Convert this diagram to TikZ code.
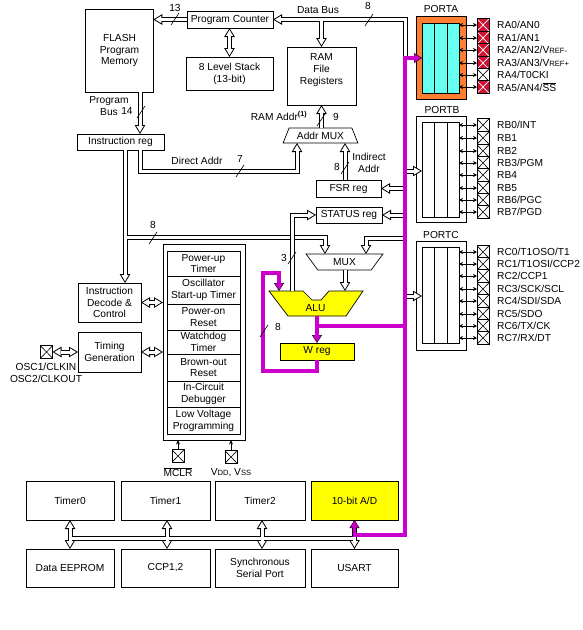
\documentclass[tikz,border=0pt]{standalone}
\usepackage{fontspec}
\setmainfont{Liberation Sans}
\usetikzlibrary{arrows.meta,shapes.geometric}

\definecolor{magbus}{HTML}{CC00CC}
\definecolor{portcyan}{HTML}{66FFF0}
\definecolor{portorange}{HTML}{FF7F32}
\definecolor{pinred}{HTML}{D01030}
\definecolor{blockyellow}{HTML}{FFFF00}

\newcommand{\smallcap}[1]{{\fontsize{7.6}{9}\selectfont #1}}

\tikzset{
	hollow/.tip={Triangle[open,fill=white,line width=.8pt,length=9pt,width=10.5pt]},
	magtip/.tip={Triangle[fill=magbus,line width=.4pt,length=8pt,width=10pt]},
	wbus/.style={draw=black,line width=5pt,postaction={draw=white,line width=3pt,-,shorten >=8pt}},
	wbusplain/.style={draw=black,line width=5pt,postaction={draw=white,line width=3pt,-}},
	wbustwo/.style={draw=black,line width=5pt,postaction={draw=white,line width=3pt,-,shorten >=8pt,shorten <=8pt}},
	mbus/.style={draw=black,line width=4.8pt,postaction={draw=magbus,line width=3.4pt,-,shorten >=7pt}},
	mbusplain/.style={draw=black,line width=4.8pt,postaction={draw=magbus,line width=3.4pt,-}},
	mbustwo/.style={draw=black,line width=4.8pt,postaction={draw=magbus,line width=3.4pt,-,shorten >=7pt,shorten <=7pt}},
	wjoin/.style={white,line width=3pt},
	mjoin/.style={magbus,line width=3.4pt},
	block/.style={draw,line width=1pt,inner sep=0pt,outer sep=0pt,align=center},
	txt/.style={inner sep=0pt,align=center},
	cellbox/.style={block,minimum width=73pt},
	pinarrow/.style={line width=.8pt,{Stealth[length=4pt,width=4pt]}-{Stealth[length=4pt,width=4pt]}},
	powerarrow/.style={line width=.8pt,-{Stealth[length=4.5pt,width=4pt]}},
	cutmark/.style={line width=.6pt},
	pinlabel/.style={inner sep=0pt,anchor=west},
	redpin/.style={draw,line width=.8pt,fill=pinred,minimum width=12pt,minimum height=12.4pt,inner sep=0pt,outer sep=0pt,
		path picture={\draw[white,line width=.7pt]
			(path picture bounding box.north west) -- (path picture bounding box.south east)
			(path picture bounding box.north east) -- (path picture bounding box.south west);}},
	whitepin/.style={draw,line width=.8pt,fill=white,minimum width=12pt,minimum height=12.4pt,inner sep=0pt,outer sep=0pt,
		path picture={\draw[black,line width=.6pt]
			(path picture bounding box.north west) -- (path picture bounding box.south east)
			(path picture bounding box.north east) -- (path picture bounding box.south west);}},
}

\begin{document}
\begin{tikzpicture}[x=1pt, y=-1pt, font=\fontsize{10.2}{11.8}\selectfont]
	
	\useasboundingbox (0,0) rectangle (582,630);
	
	% ------------------------------------------------------------
	% Positionen
	% ------------------------------------------------------------
	
	\def\xmain{405}
	\def\xprog{140}
	\def\xdecode{125}
	\def\xramin{321.5}
	\def\xdirect{297}
	\def\xindirect{345}
	\def\xmuxl{325}
	\def\xmuxr{366}
	\def\xalustat{292}
	\def\xaluw{279}
	\def\xalumux{345}
	\def\xwreg{317}
	\def\xad{354.5}
	\def\yinstr{237.5}
	\def\yperi{538.5}
	
	% ------------------------------------------------------------
	% Blocks
	% ------------------------------------------------------------
	
	\node[block, minimum width=67.5pt, minimum height=83pt] (flash) at (119.5,50.5)
	{FLASH\\Program\\Memory};
	\node[block, minimum width=86pt, minimum height=17pt] (pc) at (230,19.5)
	{Program Counter};
	\node[block, minimum width=87pt, minimum height=33pt] (stack) at (229.5,73.5)
	{8 Level Stack\\(13-bit)};
	\node[block, minimum width=69pt, minimum height=58pt] (ram) at (321.5,76) {};
	\node[txt] (ramtext) at (321.5,70) {RAM\\File\\Registers};
	\node[block, minimum width=87pt, minimum height=16pt] (instr) at (120.5,142)
	{Instruction reg};
	\node[trapezium, draw, line width=.7pt, inner sep=0pt, outer sep=0pt, trapezium stretches=true,
		trapezium angle=59, minimum width=75pt, minimum height=15pt] (addrmux) at (320.5,135.5)
	{Addr MUX};
	\node[block, minimum width=65pt, minimum height=17pt] (fsr) at (348.5,188.5)
	{FSR reg};
	\node[block, minimum width=66pt, minimum height=16pt] (status) at (349,215)
	{STATUS reg};
	\node[trapezium, draw, line width=.7pt, inner sep=0pt, outer sep=0pt, trapezium stretches=true,
		trapezium angle=55, shape border rotate=180, minimum width=77pt, minimum height=16pt] (mux) at (344.5,262)
	{MUX};
	\node[block, fill=blockyellow, minimum width=74pt, minimum height=17pt] (wreg) at (\xwreg,351.5)
	{W reg};
	\node[block, minimum width=63pt, minimum height=39pt] (decode) at (109.5,302.5)
	{Instruction\\Decode \&\\Control};
	\node[block, minimum width=63pt, minimum height=40pt] (timing) at (109.5,352)
	{Timing\\Generation};
	
	% ALU
	\draw[line width=.7pt, fill=blockyellow] (269,291) -- (303,291) -- (312,300) -- (321,300)
	-- (329,291) -- (363,291) -- (346,316) -- (288,316) -- cycle;
	\node[txt] (alu) at (315.5,308) {ALU};
	
	% ------------------------------------------------------------
	% Special functions
	% ------------------------------------------------------------
	
	\node[block, minimum width=82pt, minimum height=196pt] (special) at (204,342) {};
	\node[cellbox, minimum height=25pt] (pwrt) at (203.5,263.5) {Power-up\\Timer};
	\node[cellbox, minimum height=28pt] (ost) at (203.5,290) {Oscillator\\Start-up Timer};
	\node[cellbox, minimum height=26pt] (por) at (203.5,317) {Power-on\\Reset};
	\node[cellbox, minimum height=24pt] (wdt) at (203.5,342) {Watchdog\\Timer};
	\node[cellbox, minimum height=27pt] (bor) at (203.5,367.5) {Brown-out\\Reset};
	\node[cellbox, minimum height=26pt] (icd) at (203.5,394) {In-Circuit\\Debugger};
	\node[cellbox, minimum height=27pt] (lvp) at (203.5,420.5) {Low Voltage\\Programming};
	
	% ------------------------------------------------------------
	% Peripherals
	% ------------------------------------------------------------
	
	\node[block, minimum width=88pt, minimum height=39pt] (timer0) at (70,500.5) {Timer0};
	\node[block, minimum width=89pt, minimum height=39pt] (timer1) at (165.5,500.5) {Timer1};
	\node[block, minimum width=90pt, minimum height=39pt] (timer2) at (260,500.5) {Timer2};
	\node[block, fill=blockyellow, minimum width=87pt, minimum height=39pt] (adc) at (354.5,500.5) {10-bit A/D};
	\node[block, minimum width=88pt, minimum height=38pt] (eeprom) at (70,568) {Data EEPROM};
	\node[block, minimum width=89pt, minimum height=38pt] (ccp) at (165.5,568) {CCP1,2};
	\node[block, minimum width=90pt, minimum height=38pt] (ssp) at (260,568) {Synchronous\\Serial Port};
	\node[block, minimum width=87pt, minimum height=38pt] (usart) at (354.5,568) {USART};
	
	% ------------------------------------------------------------
	% Ports
	% ------------------------------------------------------------
	
	\node[block, fill=portorange, minimum width=50pt, minimum height=83pt] (porta) at (441,57.5) {};
	\node[block, fill=portcyan, minimum width=37pt, minimum height=70pt] (portainner) at (440.5,58) {};
	\node[block, minimum width=50pt, minimum height=106pt] (portb) at (441,169) {};
	\node[block, minimum width=37pt, minimum height=95pt] (portbinner) at (440.5,169.5) {};
	\node[block, minimum width=50pt, minimum height=109pt] (portc) at (441,295.5) {};
	\node[block, minimum width=37pt, minimum height=96pt] (portcinner) at (440.5,295) {};
	
	\foreach \portinner in {portainner,portbinner,portcinner} {
		\draw[line width=.8pt] (434,0 |- \portinner.north) -- (434,0 |- \portinner.south);
		\draw[line width=.8pt] (447,0 |- \portinner.north) -- (447,0 |- \portinner.south);
	}
	
	\node[txt] (portalabel) at (441,9) {PORTA};
	\node[txt] (portblabel) at (442,110) {PORTB};
	\node[txt] (portclabel) at (441,235) {PORTC};
	
	\foreach \i/\ypin/\pinstyle/\pintext in {
		0/25/redpin/{RA0/AN0},
		1/38/redpin/{RA1/AN1},
		2/50/redpin/{RA2/AN2/V\smallcap{REF-}},
		3/63/redpin/{RA3/AN3/V\smallcap{REF+}},
		4/75/whitepin/{RA4/T0CKI},
		5/87/redpin/{RA5/AN4/$\overline{\mbox{SS}}$}} {
		\node[\pinstyle] (ra\i) at (483,\ypin) {};
		\node[pinlabel] (ralabel\i) at (497,\ypin) {\pintext};
		\draw[pinarrow] (ra\i.west) -- (portainner.east |- ra\i.west);
	}
	
	\foreach \i/\ypin/\pintext in {
		0/125/{RB0/INT},
		1/138/{RB1},
		2/151/{RB2},
		3/163/{RB3/PGM},
		4/175/{RB4},
		5/188/{RB5},
		6/200/{RB6/PGC},
		7/212/{RB7/PGD}} {
		\node[whitepin] (rb\i) at (483,\ypin) {};
		\node[pinlabel] (rblabel\i) at (497,\ypin) {\pintext};
		\draw[pinarrow] (rb\i.west) -- (portbinner.east |- rb\i.west);
	}
	
	\foreach \i/\ypin/\pintext in {
		0/252/{RC0/T1OSO/T1},
		1/264/{RC1/T1OSI/CCP2},
		2/276/{RC2/CCP1},
		3/289/{RC3/SCK/SCL},
		4/301/{RC4/SDI/SDA},
		5/314/{RC5/SDO},
		6/326/{RC6/TX/CK},
		7/338/{RC7/RX/DT}} {
		\node[whitepin] (rc\i) at (483,\ypin) {};
		\node[pinlabel] (rclabel\i) at (497,\ypin) {\pintext};
		\draw[pinarrow] (rc\i.west) -- (portcinner.east |- rc\i.west);
	}
	
	% ------------------------------------------------------------
	% Other pins
	% ------------------------------------------------------------
	
	\node[whitepin] (oscpin) at (46.5,352) {};
	\node[txt] (osclabel) at (46,373) {OSC1/CLKIN\\OSC2/CLKOUT};
	\node[whitepin] (mclrpin) at (178,456) {};
	\node[txt] (mclrlabel) at (178,472) {$\overline{\mbox{MCLR}}$};
	\node[whitepin] (vddpin) at (231,457) {};
	\node[txt] (vddlabel) at (231,473) {V\smallcap{DD}, V\smallcap{SS}};
	
	\draw[powerarrow] (mclrpin.north) -- (mclrpin.north |- special.south);
	\draw[powerarrow] (vddpin.north) -- (vddpin.north |- special.south);
	
	% ------------------------------------------------------------
	% White busses
	% ------------------------------------------------------------
	
	\draw[wbus, -{hollow}] (pc.west) -- (flash.east |- pc.west);
	\draw[wbustwo, {hollow}-{hollow}] (pc.south -| stack.north) -- (stack.north);
	\draw[wbus, -{hollow}] (\xprog,0 |- flash.south) -- (\xprog,0 |- instr.north);
	\draw[wbus, -{hollow}] (\xprog,0 |- instr.south) -- (\xprog,171) -- (\xdirect,171) -- (\xdirect,143);
	\draw[wbus, -{hollow}] (\xramin,0 |- addrmux.north) -- (ram.south);
	\draw[wbus, -{hollow}] (\xindirect,0 |- fsr.north) -- (\xindirect,143);
	
	% data bus
	\draw[wbus, -{hollow}] (\xramin,19.5) -- (ram.north);
	\draw[wbus, -{hollow}] (\xmain,58) -- (\xmain,19.5) -- (pc.east);
	\draw[wjoin] (\xramin,19.5) -- ++(0,4);
	
	% instruction bus
	\draw[wbus, -{hollow}] (\xdecode,\yinstr) -- (\xmuxl,\yinstr) -- (\xmuxl,0 |- mux.north);
	\draw[wbus, -{hollow}] (\xdecode,0 |- instr.south) -- (\xdecode,0 |- decode.north);
	\draw[wjoin] (\xdecode,\yinstr) -- ++(4,0);
	
	% branches off the main bus
	\draw[wbus, -{hollow}] (\xmain,0 |- fsr.east) -- (fsr.east);
	\draw[wbus, -{hollow}] (\xmain,0 |- status.east) -- (status.east);
	\draw[wbus, -{hollow}] (\xmain,238) -- (\xmuxr,238) -- (\xmuxr,0 |- mux.north);
	\draw[wbus, -{hollow}] (\xmain,171) -- (portbinner.west |- 0,171);
	\draw[wbus, -{hollow}] (\xmain,296) -- (portcinner.west |- 0,296);
	
	\draw[wbus, -{hollow}] (\xalustat,291) -- (\xalustat,0 |- status.west) -- (status.west);
	\draw[wbus, -{hollow}] (\xalumux,0 |- mux.south) -- (\xalumux,291);
	
	\draw[wbustwo, {hollow}-{hollow}] (decode.east) -- (special.west |- decode.east);
	\draw[wbustwo, {hollow}-{hollow}] (timing.east) -- (special.west |- timing.east);
	\draw[wbustwo, {hollow}-{hollow}] (oscpin.east) -- (timing.west);
	
	% peripheral bus
	\draw[wbus, -{hollow}] (70,\yperi) -- (\xad,\yperi) -- (usart.north);
	\draw[wbustwo, {hollow}-{hollow}] (timer0.south) -- (eeprom.north);
	\draw[wjoin] (70,\yperi) -- ++(4,0);
	\foreach \xperi in {167,262} {
		\draw[wbustwo, {hollow}-{hollow}] (\xperi,0 |- timer1.south) -- (\xperi,0 |- ccp.north);
		\draw[wjoin] (\xperi-4,\yperi) -- (\xperi+4,\yperi);
		\draw[wjoin] (\xperi,\yperi-4) -- (\xperi,\yperi+4);
	}
	
	% ------------------------------------------------------------
	% Magenta busses
	% ------------------------------------------------------------
	
	\draw[mbusplain] (\xwreg,326) -- (\xmain,326);
	\draw[mbus, -{magtip}] (\xwreg,316) -- (wreg.north);
	\draw[mjoin] (\xwreg,326) -- ++(4,0);
	\draw[mbus, -{magtip}] (wreg.south) -- (\xwreg,371) -- (263,371) -- (263,273) -- (\xaluw,273) -- (\xaluw,291);
	\draw[mbustwo, {magtip}-{magtip}] (adc.south) -- (\xad,535) -- (\xmain,535) -- (\xmain,58) -- (portainner.west |- 0,58);
	\draw[mjoin] (\xmain,326) -- ++(-4,0);
	
	% ------------------------------------------------------------
	% Bus widths
	% ------------------------------------------------------------
	
	\foreach \xcut/\ycut in {175/19, 369/20, 141/112, 321/120, 240/171, 345/168, 153/238, 292/258, 264/331} {
		\draw[cutmark] (\xcut-4,\ycut+6) -- (\xcut+4,\ycut-6);
	}
	
	\node[txt] (widthpc) at (175,8) {13};
	\node[txt] (databus) at (318,10) {Data Bus};
	\node[txt] (widthdata) at (368,6) {8};
	\node[txt] (progbus) at (109,106) {Program\\Bus};
	\node[txt] (widthprog) at (127,110.5) {14};
	\node[txt] (ramaddr) at (279,116) {RAM Addr\textsuperscript{\textbf{(1)}}};
	\node[txt] (widthram) at (336,117) {9};
	\node[txt] (directaddr) at (197,161) {Direct Addr};
	\node[txt] (widthdirect) at (240,159) {7};
	\node[txt] (indirectaddr) at (369,163) {Indirect\\Addr};
	\node[txt] (widthfsr) at (337,167) {8};
	\node[txt] (widthinstr) at (153,225) {8};
	\node[txt] (widthstatus) at (284,258) {3};
	\node[txt] (widthw) at (278,327) {8};
	
\end{tikzpicture}
\end{document}
